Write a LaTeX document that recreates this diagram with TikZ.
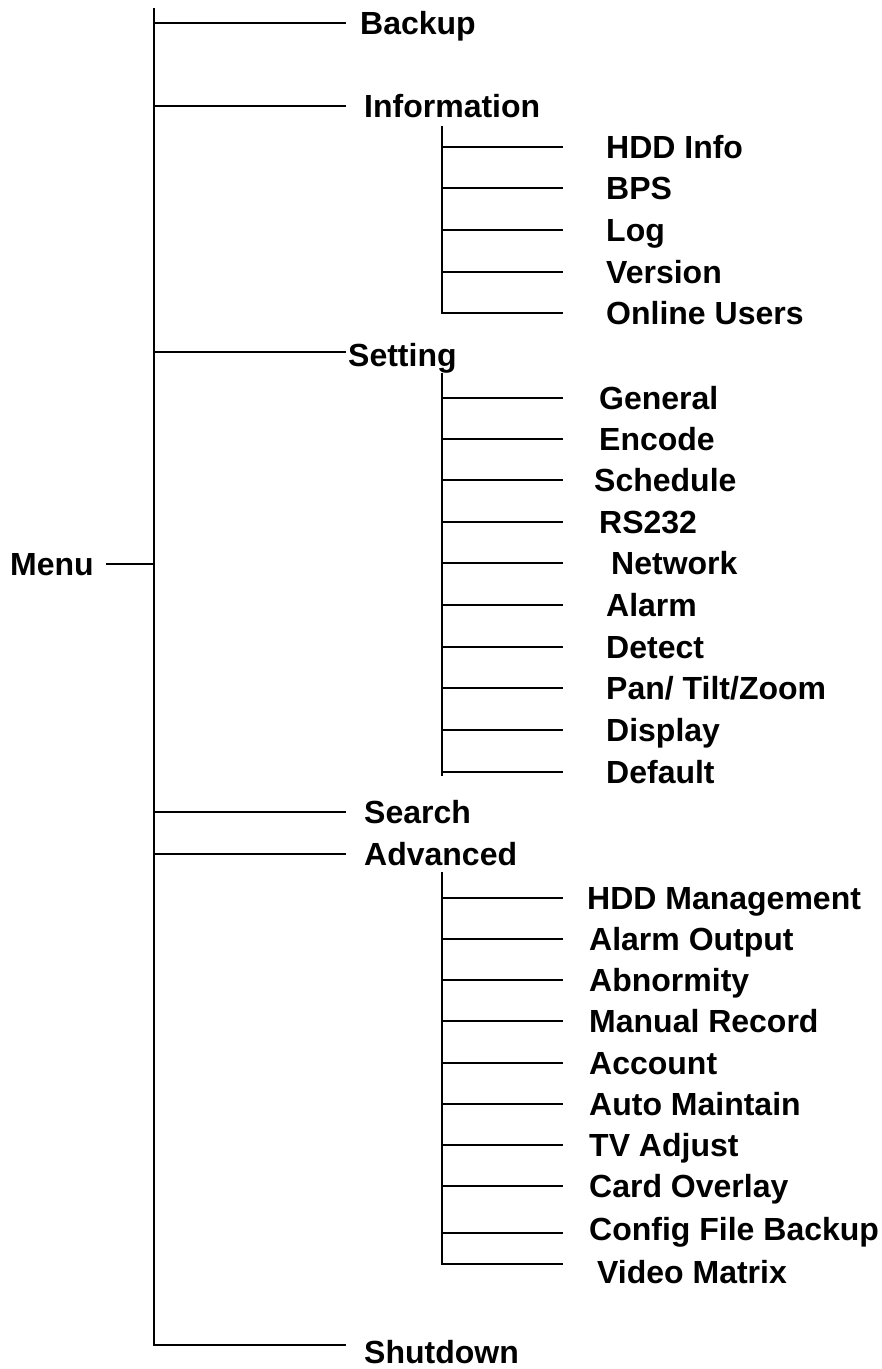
\documentclass[tikz,border=0pt]{standalone}
\usepackage{fontspec}
\setmainfont{Liberation Sans}
\usetikzlibrary{positioning}

\begin{document}
\begin{tikzpicture}[
    x=1pt, y=-1pt,
    every node/.style={font=\fontsize{32}{38}\selectfont\bfseries, inner sep=0pt,
        text height=23pt, text depth=0pt, anchor=west},
    branch/.style={line width=1.8pt},
]
\useasboundingbox (0,0) rectangle (882,1369);

% Bus positions
\coordinate (trunk) at (154,0);
\coordinate (mainend) at (346,0);
\coordinate (subbus) at (442,0);
\coordinate (subend) at (563,0);

% Root and first level
\node (menu) at (10,564) {Menu};
\node (backup) at (360,23) {Backup};
\node (information) at (364,106) {Information};
\node (setting) at (348,355) {Setting};
\node (search) at (364,812) {Search};
\node (advanced) at (364,854) {Advanced};
\node (shutdown) at (364,1352) {Shutdown};

\draw[branch, shorten <=12pt] (menu.east) -- (trunk |- menu.east);
\draw[branch] (154,8) -- ([yshift=7pt]trunk |- shutdown) -- ([yshift=7pt]mainend |- shutdown);
\foreach \name in {backup, information, search, advanced}
    \draw[branch] (trunk |- \name) -- (mainend |- \name);
\draw[branch] ([yshift=3pt]trunk |- setting) -- ([yshift=3pt]mainend |- setting);

% Information
\foreach \name/\tx/\ty/\lab in {hddinfo/606/147/HDD Info, bps/606/188/BPS,
    log/606/230/Log, version/606/272/Version, users/606/313/Online Users} {
    \node (\name) at (\tx,\ty) {\lab};
    \draw[branch] (subbus |- \name) -- (subend |- \name);
}
\draw[branch] (442,126) -- (subbus |- users) -- (subend |- users);

% Setting
\foreach \name/\tx/\ty/\lab in {general/599/398/General, encode/599/439/Encode,
    schedule/594/480/Schedule, rs/599/522/RS232, network/611/563/Network,
    alarm/606/605/Alarm, detect/606/647/Detect, ptz/606/688/{Pan/ Tilt/Zoom},
    display/606/730/Display, default/606/772/Default} {
    \node (\name) at (\tx,\ty) {\lab};
    \draw[branch] (subbus |- \name) -- (subend |- \name);
}
\draw[branch] (442,373) -- (442,776);

% Advanced
\foreach \name/\tx/\ty/\lab in {hddman/587/898/HDD Management, alarmout/589/939/Alarm Output,
    abnorm/589/980/Abnormity, manual/589/1021/Manual Record, account/589/1063/Account,
    maintain/589/1104/Auto Maintain, tvadj/589/1145/TV Adjust, card/589/1186/Card Overlay} {
    \node (\name) at (\tx,\ty) {\lab};
    \draw[branch] (subbus |- \name) -- (subend |- \name);
}
\node (config) at (589,1229) {Config File Backup};
\node (matrix) at (597,1272) {Video Matrix};
\draw[branch] ([yshift=-4pt]subbus |- config) -- ([yshift=-4pt]subend |- config);
\draw[branch] (442,872) -- ([yshift=8pt]subbus |- matrix) -- ([yshift=8pt]subend |- matrix);

\end{tikzpicture}
\end{document}
